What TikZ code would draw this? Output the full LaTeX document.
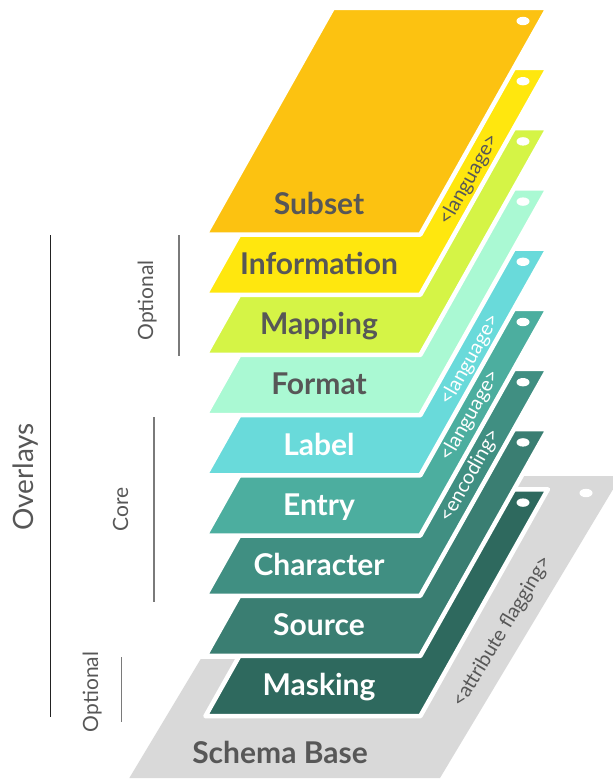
\documentclass[tikz,border=0pt]{standalone}
\usepackage{fontspec}
\setmainfont{Lato}
\definecolor{cSubset}{HTML}{FCC211}
\definecolor{cInfo}{HTML}{FFE70E}
\definecolor{cMap}{HTML}{D5F446}
\definecolor{cFormat}{HTML}{AAF9D3}
\definecolor{cLabel}{HTML}{69DADA}
\definecolor{cEntry}{HTML}{4CAE9F}
\definecolor{cChar}{HTML}{408F82}
\definecolor{cSource}{HTML}{3A7E72}
\definecolor{cMask}{HTML}{2E695E}
\definecolor{cBase}{HTML}{D9D9D9}
\definecolor{cText}{HTML}{575757}
\definecolor{cLine}{HTML}{222222}
\definecolor{cLineL}{HTML}{7A7A7A}
\tikzset{
  sheet/.style={draw=white, line width=4.5pt, line join=round},
  hole/.style={fill=white},
  layername/.style={anchor=base, inner sep=0pt, font=\fontsize{30}{30}\selectfont\bfseries},
  striptext/.style={anchor=center, inner sep=0pt, rotate=60.6, font=\fontsize{20}{20}\selectfont},
  sidetext/.style={anchor=base, inner sep=0pt, rotate=90, text=cText},
  bigline/.style={draw=cLine, line width=1.4pt},
  smallline/.style={draw=cLineL, line width=1.1pt}
}
\begin{document}
\begin{tikzpicture}[x=1pt,y=-1pt]
\useasboundingbox (0,0) rectangle (613,780);
\clip (0,0) rectangle (613,780);
% schema base
\fill[cBase] (129.3,778) -- (440,778) -- (621,476) -- (500,476) -- (300,659) -- (200.7,659) -- cycle;
\fill[hole] (586,493) ellipse [x radius=6.5, y radius=4.2];
% overlay sheets, bottom to top
\foreach \k/\col in {8/cMask,7/cSource,6/cChar,5/cEntry,4/cLabel,3/cFormat,2/cMap,1/cInfo,0/cSubset}{
  \begin{scope}[shift={(0,60.2*\k)}]
    \filldraw[sheet, fill=\col] (333.0,7.75) -- (547.85,7.75) -- (420.3,234.55) -- (205.45,234.55) -- cycle;
    \fill[hole] (523,21) ellipse [x radius=6.5, y radius=4.2];
  \end{scope}
}
% layer names
\node[layername, text=cText] (nSubset) at (319,214.2) {Subset};
\node[layername, text=cText] (nInfo) at (319,274.4) {Information};
\node[layername, text=cText] (nMap) at (319,334.6) {Mapping};
\node[layername, text=cText] (nFormat) at (319,394.8) {Format};
\node[layername, text=white] (nLabel) at (319,455.0) {Label};
\node[layername, text=white] (nEntry) at (319,515.2) {Entry};
\node[layername, text=white] (nChar) at (319,575.4) {Character};
\node[layername, text=white] (nSource) at (319,635.6) {Source};
\node[layername, text=white] (nMask) at (319,695.8) {Masking};
\node[layername, text=cText] (nBase) at (280,763) {Schema Base};
% strip labels
\node[striptext, text=cText] (sInfo) at (469,180) {<language>};
\node[striptext, text=white] (sLabel) at (470,360) {<language>};
\node[striptext, text=white] (sEntry) at (470,416) {<language>};
\node[striptext, text=white] (sChar) at (470,476) {<encoding>};
\node[striptext, text=cText, rotate=-1.6] (sBase) at (502,632) {<attribute flagging>};
% side brackets
\node[sidetext, font=\fontsize{28}{28}\selectfont] (tOver) at (33.5,477) {Overlays};
\node[sidetext, font=\fontsize{21}{21}\selectfont] (tOpt1) at (153,300.5) {Optional};
\node[sidetext, font=\fontsize{21}{21}\selectfont] (tCore) at (128,509) {Core};
\node[sidetext, font=\fontsize{21}{21}\selectfont] (tOpt2) at (98,692) {Optional};
\coordinate (oTop) at (50.7,235);
\coordinate (oBot) at (50.7,717);
\coordinate (p1Top) at (179,235);
\coordinate (p1Bot) at (179,356);
\coordinate (cTop) at (154,417);
\coordinate (cBot) at (154,602);
\coordinate (p2Top) at (121.7,657);
\coordinate (p2Bot) at (121.7,722);
\draw[bigline] (oTop) -- (oBot);
\draw[smallline] (p1Top) -- (p1Bot);
\draw[smallline] (cTop) -- (cBot);
\draw[smallline] (p2Top) -- (p2Bot);
\end{tikzpicture}
\end{document}
